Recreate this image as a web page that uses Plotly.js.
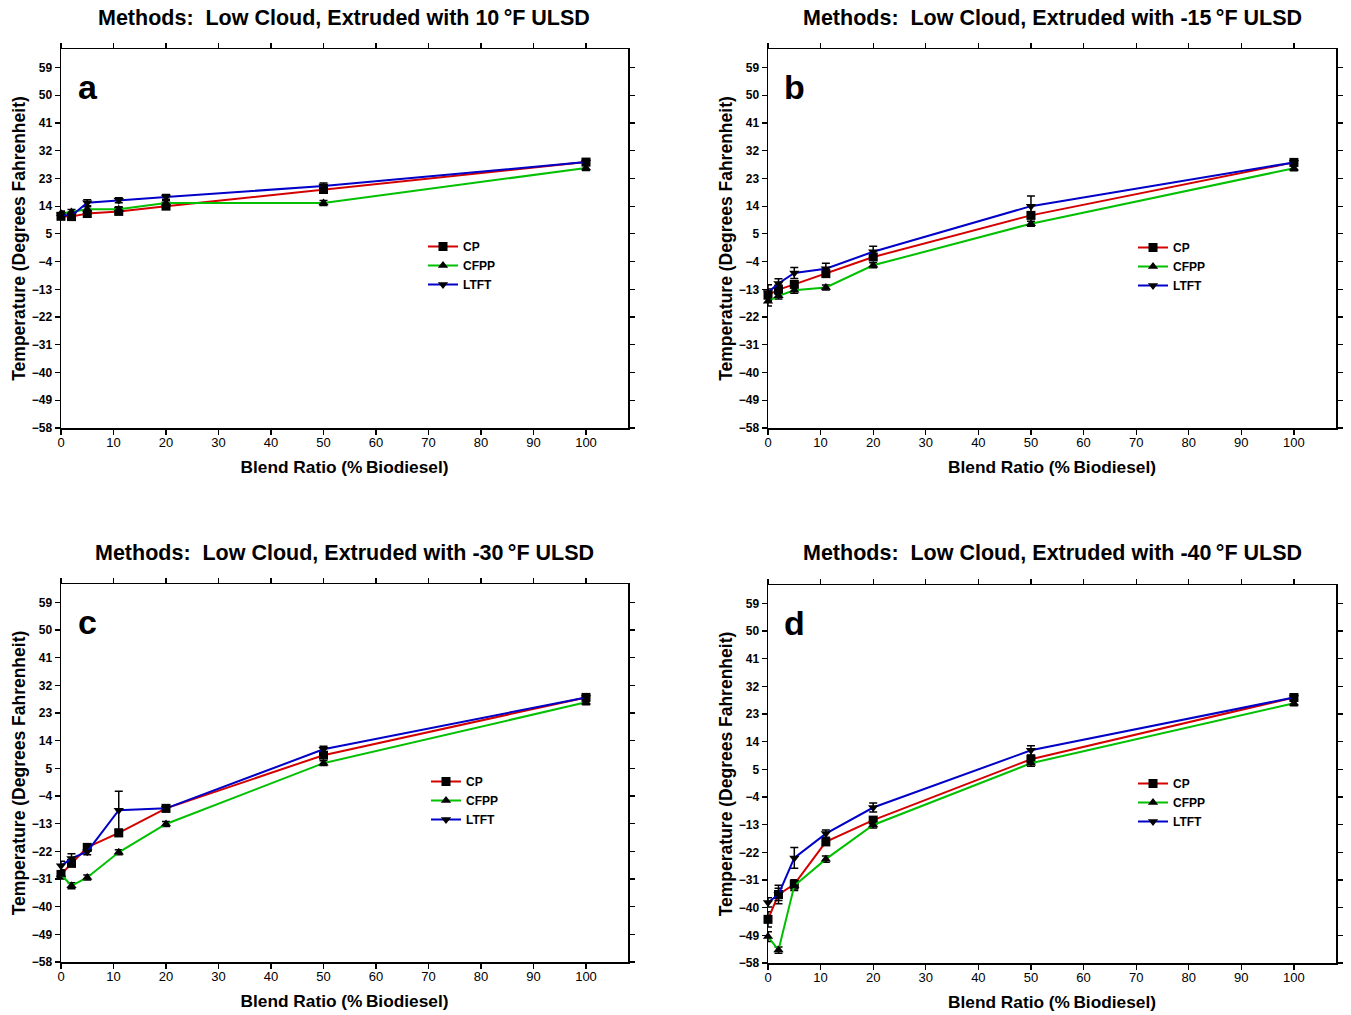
<!DOCTYPE html>
<html>
<head>
<meta charset="utf-8">
<script src="https://cdn.plot.ly/plotly-3.0.1.min.js"></script>
<style>html,body{margin:0;padding:0;background:#fff;}#chart{width:1351px;height:1015px;}</style>
</head>
<body>
<div id="chart"></div>
<script>
// ---- data ----
const blend = [0, 2, 5, 11, 20, 50, 100];
const seriesNames = ["CP", "CFPP", "LTFT"];
const panelLetters = ["a", "b", "c", "d"];
const panelTitles = [
  "Methods:  Low Cloud, Extruded with 10\u2009\u00B0F ULSD",
  "Methods:  Low Cloud, Extruded with -15\u2009\u00B0F ULSD",
  "Methods:  Low Cloud, Extruded with -30\u2009\u00B0F ULSD",
  "Methods:  Low Cloud, Extruded with -40\u2009\u00B0F ULSD"
];
const yTicks = [-58, -49, -40, -31, -22, -13, -4, 5, 14, 23, 32, 41, 50, 59];
const xTicks = [0, 10, 20, 30, 40, 50, 60, 70, 80, 90, 100];

// panel a (10 F ULSD)
const cpA   = [10.7, 10.6, 11.6, 12.3, 14.0, 19.4, 28.3];
const cfppA = [11.6, 12.1, 13.0, 13.0, 15.0, 15.0, 26.4];
const ltftA = [11.2, 10.9, 15.1, 15.9, 17.0, 20.5, 28.3];
const cpErrA   = [1.0, 1.0, 1.2, 1.0, 1.0, 1.0, 0.8];
const cfppErrA = [0.8, 0.8, 0.8, 0.8, 0.8, 0.8, 0.8];
const ltftErrA = [1.0, 1.0, 1.0, 0.8, 0.8, 1.0, 0.6];

// panel b (-15 F ULSD)
const cpB   = [-14.9, -13.1, -11.4, -7.9, -2.5, 11.0, 28.2];
const cfppB = [-16.9, -15.1, -13.3, -12.4, -5.2, 8.3, 26.3];
const ltftB = [-14.0, -11.1, -7.7, -6.3, -0.8, 14.0, 28.2];
const cpErrB   = [2.0, 1.5, 1.0, 1.0, 1.0, 0.8, 0.8];
const cfppErrB = [1.5, 1.0, 1.0, 0.8, 0.8, 0.8, 0.8];
const ltftErrB = [2.5, 1.5, 1.8, 1.8, 1.8, 3.3, 0.8];

// panel c (-30 F ULSD)
const cpC   = [-29.5, -25.9, -20.7, -16.0, -8.0, 9.3, 28.1];
const cfppC = [-29.5, -33.2, -30.5, -22.3, -13.1, 6.7, 26.5];
const ltftC = [-26.7, -24.3, -22.1, -8.6, -8.0, 11.2, 28.1];
const cpErrC   = [1.5, 1.0, 1.0, 1.0, 1.0, 1.0, 0.8];
const cfppErrC = [1.0, 1.0, 0.8, 0.8, 0.8, 0.8, 0.8];
const ltftErrC = [1.5, 1.5, 1.0, 6.2, 1.0, 1.0, 0.8];

// panel d (-40 F ULSD)
const cpD   = [-43.8, -35.7, -32.4, -18.6, -11.5, 8.3, 28.4];
const cfppD = [-49.4, -53.8, -32.9, -24.2, -13.1, 7.0, 26.5];
const ltftD = [-38.3, -35.7, -23.8, -15.9, -7.4, 11.2, 28.4];
const cpErrD   = [2.5, 3.0, 1.5, 1.0, 1.0, 1.0, 0.8];
const cfppErrD = [1.6, 1.0, 1.5, 1.0, 1.0, 1.0, 0.8];
const ltftErrD = [1.5, 2.0, 3.4, 1.2, 1.5, 1.5, 0.8];

// ---- styling ----
const lineColors = ["#d40000", "#00c000", "#0000c8"];
const symbols = ["square", "triangle-up", "triangle-down"];
const FONT = "Liberation Sans, Arial, sans-serif";

const panels = [
  {vals: [cpA, cfppA, ltftA], errs: [cpErrA, cfppErrA, ltftErrA]},
  {vals: [cpB, cfppB, ltftB], errs: [cpErrB, cfppErrB, ltftErrB]},
  {vals: [cpC, cfppC, ltftC], errs: [cpErrC, cfppErrC, ltftErrC]},
  {vals: [cpD, cfppD, ltftD], errs: [cpErrD, cfppErrD, ltftErrD]}
];

const W = 1351, H = 1015;
const xDom = [[61/W, 628/W], [768/W, 1336/W], [61/W, 628/W], [768/W, 1336/W]];
const yDom = [[1-428/H, 1-49/H], [1-428/H, 1-49/H], [1-962/H, 1-584/H], [1-963/H, 1-585/H]];
// legend placement (left px, top px)
const legPos = [[423, 232], [1133, 233], [426, 767], [1133, 769]];

const traces = [];
panels.forEach((p, i) => {
  const ax = i === 0 ? "" : String(i + 1);
  const legName = i === 0 ? "legend" : "legend" + (i + 1);
  seriesNames.forEach((name, s) => {
    traces.push({
      x: blend, y: p.vals[s], name: name,
      xaxis: "x" + ax, yaxis: "y" + ax, legend: legName,
      type: "scatter", mode: "lines+markers",
      line: {color: lineColors[s], width: 2},
      marker: {symbol: symbols[s], size: 9, color: "#000", line: {width: 0}},
      error_y: {type: "data", array: p.errs[s], visible: true, color: "#000", thickness: 1.5, width: 4},
      cliponaxis: false
    });
  });
});

const layout = {
  width: W, height: H,
  margin: {l: 0, r: 0, t: 0, b: 0},
  paper_bgcolor: "#fff", plot_bgcolor: "#fff",
  font: {family: FONT, color: "#000"},
  annotations: [],
  showlegend: true
};

for (let i = 0; i < 4; i++) {
  const ax = i === 0 ? "" : String(i + 1);
  layout["xaxis" + ax] = {
    domain: xDom[i], anchor: "y" + ax, range: [0, 108],
    tickvals: xTicks, ticks: "outside", ticklen: 5, tickwidth: 1.2, tickcolor: "#000",
    ticklabelstandoff: -3,
    showline: true, linecolor: "#000", linewidth: 1.5, mirror: "ticks",
    showgrid: false, zeroline: false,
    tickfont: {family: FONT, size: 13, color: "#000"},
    title: {text: "Blend Ratio (%\u2009Biodiesel)", font: {family: FONT, size: 17.3, weight: 700, color: "#000"}, standoff: 12}
  };
  layout["yaxis" + ax] = {
    domain: yDom[i], anchor: "x" + ax, range: [-58, 65],
    tickvals: yTicks, ticks: "outside", ticklen: 5, tickwidth: 1.2, tickcolor: "#000",
    showline: true, linecolor: "#000", linewidth: 1.5, mirror: "ticks",
    showgrid: false, zeroline: false,
    tickfont: {family: FONT, size: 12, weight: 700, color: "#000"},
    title: {text: "Temperature (Degrees Fahrenheit)", font: {family: FONT, size: 17.5, weight: 700, color: "#000"}, standoff: 1}
  };
  const legName = i === 0 ? "legend" : "legend" + (i + 1);
  layout[legName] = {
    x: legPos[i][0] / W, y: 1 - legPos[i][1] / H, xanchor: "left", yanchor: "top",
    bgcolor: "rgba(0,0,0,0)", borderwidth: 0,
    font: {family: FONT, size: 12, weight: 700, color: "#000"},
    itemwidth: 30, tracegroupgap: 0
  };
  layout.annotations.push({
    text: panelTitles[i], xref: "paper", yref: "paper",
    x: (xDom[i][0] + xDom[i][1]) / 2, y: i < 2 ? 1 - 18/H : 1 - 553/H,
    xanchor: "center", yanchor: "middle", showarrow: false,
    font: {family: FONT, size: 21.5, weight: 700, color: "#000"}
  });
  layout.annotations.push({
    text: panelLetters[i], xref: "x" + ax + " domain", yref: "y" + ax + " domain",
    x: 0.047, y: 0.9, xanchor: "center", yanchor: "middle", showarrow: false,
    font: {family: FONT, size: 34, weight: 700, color: "#000"}
  });
}

Plotly.newPlot("chart", traces, layout, {displayModeBar: false, staticPlot: true});
</script>
</body>
</html>
